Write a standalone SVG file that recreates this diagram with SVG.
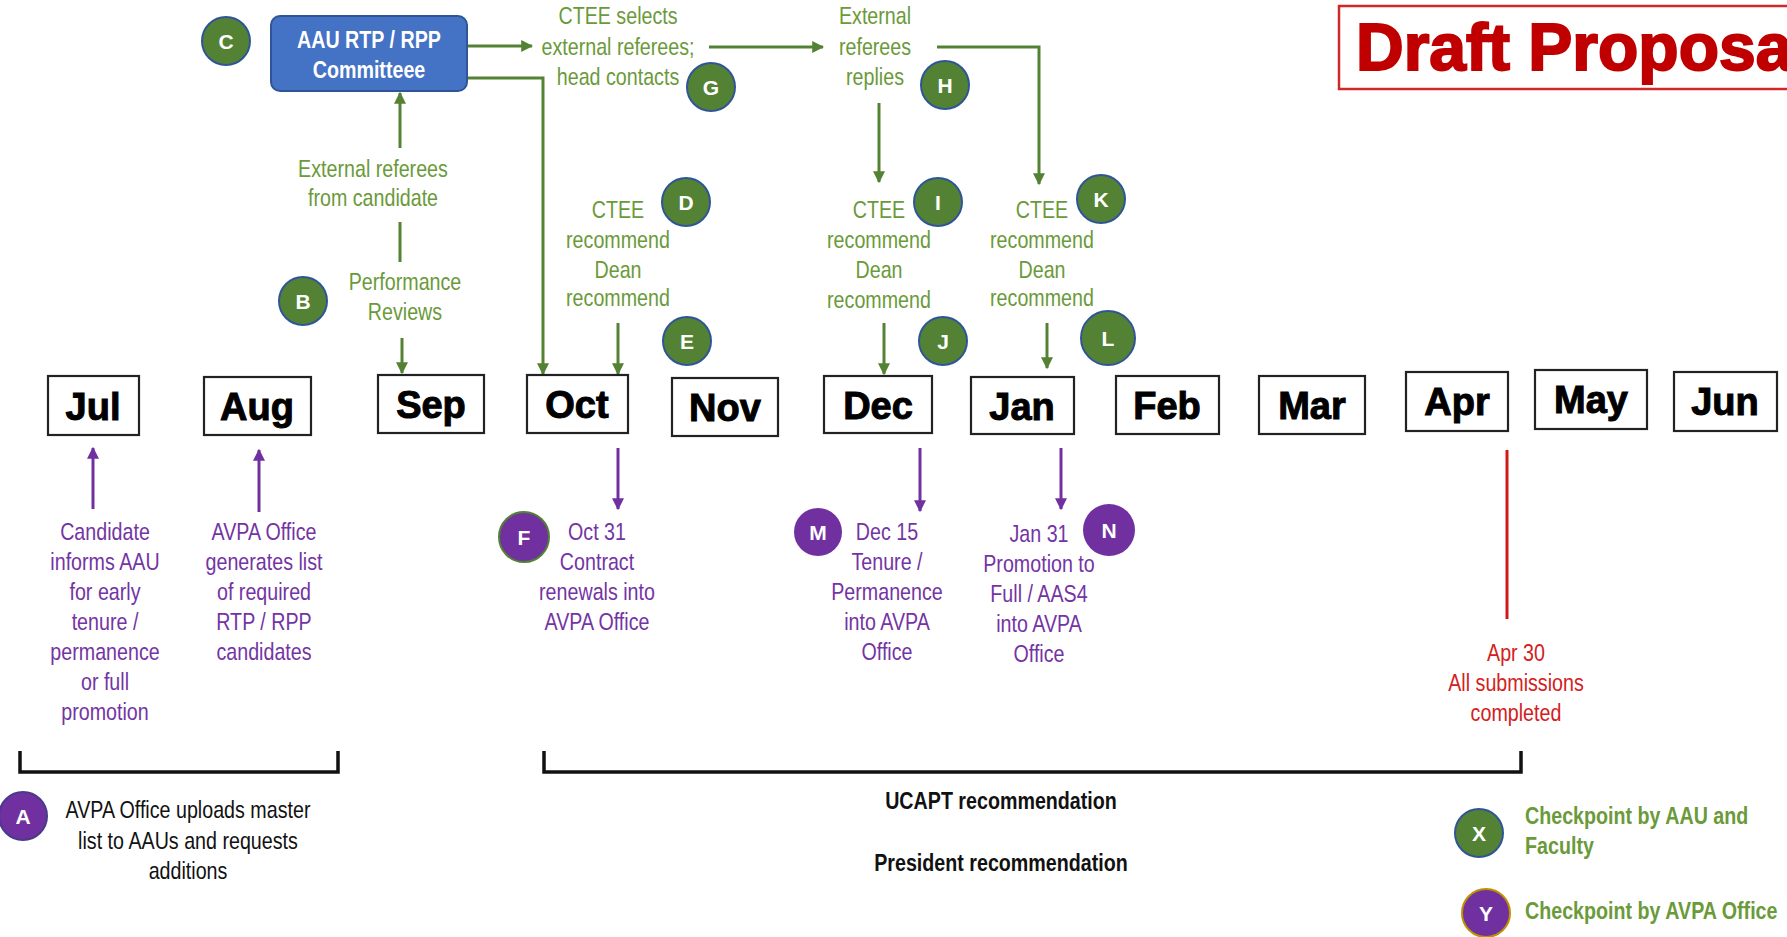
<svg xmlns="http://www.w3.org/2000/svg" width="1787" height="937" viewBox="0 0 1787 937">
<defs>
<style>
.t{font-family:"Liberation Sans",Arial,sans-serif;font-size:24px;text-anchor:middle}
.s{text-anchor:start}
.g{fill:#6a9a3a}
.p{fill:#7434a4}
.r{fill:#d42020}
.k{fill:#111}
.w{fill:#fff}
.b{font-weight:bold}
.mon rect{fill:#fff;stroke:#222;stroke-width:2.2}
.mon text{font-family:"Liberation Sans",Arial,sans-serif;font-weight:bold;font-size:38px;text-anchor:middle;fill:#000;stroke:#000;stroke-width:1}
.cg{fill:#548235;stroke:#2f5597;stroke-width:2}
.cp{fill:#7030a0;stroke:#4a3a8a;stroke-width:2}
.cl{font-family:"Liberation Sans",Arial,sans-serif;font-weight:bold;font-size:21px;fill:#fff;text-anchor:middle}
.lg{fill:none;stroke:#548235;stroke-width:3}
.lp{fill:none;stroke:#7030a0;stroke-width:3}
</style>
<marker id="ag" viewBox="0 0 10 10" refX="9" refY="5" markerWidth="4" markerHeight="4" orient="auto"><path d="M0,0 L10,5 L0,10 z" fill="#548235"/></marker>
<marker id="ap" viewBox="0 0 10 10" refX="9" refY="5" markerWidth="4" markerHeight="4" orient="auto"><path d="M0,0 L10,5 L0,10 z" fill="#7030a0"/></marker>
</defs>
<rect width="1787" height="937" fill="#fff"/>

<g id="title">
<rect x="1339" y="6" width="470" height="83" fill="#fff" stroke="#d02828" stroke-width="2.5"/>
<text x="1356" y="70" style="font-family:'Liberation Sans',Arial,sans-serif;font-weight:bold;font-size:66px;fill:#c00000;stroke:#c00000;stroke-width:2">Draft Proposal</text>
</g>

<g id="connectors">
<path class="lg" d="M467,46 H532" marker-end="url(#ag)"/>
<path class="lg" d="M467,78 H543 V374" marker-end="url(#ag)"/>
<path class="lg" d="M400,148 V93" marker-end="url(#ag)"/>
<path class="lg" d="M400,222 V262"/>
<path class="lg" d="M402,338 V373" marker-end="url(#ag)"/>
<path class="lg" d="M709,47 H823" marker-end="url(#ag)"/>
<path class="lg" d="M937,47 H1039 V184" marker-end="url(#ag)"/>
<path class="lg" d="M879,103 V182" marker-end="url(#ag)"/>
<path class="lg" d="M618,323 V374" marker-end="url(#ag)"/>
<path class="lg" d="M884,323 V374" marker-end="url(#ag)"/>
<path class="lg" d="M1047,323 V368" marker-end="url(#ag)"/>
<path class="lp" d="M93,509 V448" marker-end="url(#ap)"/>
<path class="lp" d="M259,512 V450" marker-end="url(#ap)"/>
<path class="lp" d="M618,448 V509" marker-end="url(#ap)"/>
<path class="lp" d="M920,448 V511" marker-end="url(#ap)"/>
<path class="lp" d="M1061,448 V509" marker-end="url(#ap)"/>
<path d="M1507,450 V619" fill="none" stroke="#d01818" stroke-width="3"/>
<path d="M20,751 V772 H338 V751" fill="none" stroke="#111" stroke-width="3.5"/>
<path d="M544,751 V772 H1521 V751" fill="none" stroke="#111" stroke-width="3.5"/>
</g>

<g id="committee">
<rect x="271" y="16" width="196" height="75" rx="9" fill="#4472c4" stroke="#2f5597" stroke-width="2"/>
<g class="t b w" transform="translate(369 0) scale(0.82 1)"><text x="0" y="48">AAU RTP / RPP</text><text x="0" y="78">Committeee</text></g>
</g>

<g id="months" class="mon">
<g id="m-jul"><rect x="48" y="376" width="91" height="59"/><text x="93" y="420">Jul</text></g>
<g id="m-aug"><rect x="204" y="377" width="107" height="58"/><text x="257" y="420">Aug</text></g>
<g id="m-sep"><rect x="378" y="375" width="106" height="58"/><text x="431" y="418">Sep</text></g>
<g id="m-oct"><rect x="527" y="375" width="101" height="58"/><text x="577" y="418">Oct</text></g>
<g id="m-nov"><rect x="672" y="378" width="106" height="58"/><text x="725" y="421">Nov</text></g>
<g id="m-dec"><rect x="824" y="376" width="108" height="57"/><text x="878" y="419">Dec</text></g>
<g id="m-jan"><rect x="971" y="377" width="103" height="57"/><text x="1022" y="420">Jan</text></g>
<g id="m-feb"><rect x="1116" y="376" width="103" height="58"/><text x="1167" y="419">Feb</text></g>
<g id="m-mar"><rect x="1259" y="376" width="106" height="58"/><text x="1312" y="419">Mar</text></g>
<g id="m-apr"><rect x="1406" y="372" width="102" height="59"/><text x="1457" y="415">Apr</text></g>
<g id="m-may"><rect x="1535" y="370" width="112" height="59"/><text x="1591" y="413">May</text></g>
<g id="m-jun"><rect x="1674" y="372" width="103" height="59"/><text x="1725" y="415">Jun</text></g>
</g>

<g id="ctee-selects" class="t g" transform="translate(618 0) scale(0.82 1)"><text x="0" y="24">CTEE selects</text><text x="0" y="55">external referees;</text><text x="0" y="85">head contacts</text></g>
<g id="ext-replies" class="t g" transform="translate(875 0) scale(0.82 1)"><text x="0" y="24">External</text><text x="0" y="55">referees</text><text x="0" y="85">replies</text></g>
<g id="ext-cand" class="t g" transform="translate(373 0) scale(0.82 1)"><text x="0" y="177">External referees</text><text x="0" y="206">from candidate</text></g>
<g id="perf" class="t g" transform="translate(405 0) scale(0.82 1)"><text x="0" y="290">Performance</text><text x="0" y="320">Reviews</text></g>
<g id="ctee-oct" class="t g" transform="translate(618 0) scale(0.82 1)"><text x="0" y="218">CTEE</text><text x="0" y="248">recommend</text><text x="0" y="278">Dean</text><text x="0" y="306">recommend</text></g>
<g id="ctee-dec" class="t g" transform="translate(879 0) scale(0.82 1)"><text x="0" y="218">CTEE</text><text x="0" y="248">recommend</text><text x="0" y="278">Dean</text><text x="0" y="308">recommend</text></g>
<g id="ctee-jan" class="t g" transform="translate(1042 0) scale(0.82 1)"><text x="0" y="218">CTEE</text><text x="0" y="248">recommend</text><text x="0" y="278">Dean</text><text x="0" y="306">recommend</text></g>

<g id="jul-note" class="t p" transform="translate(105 0) scale(0.82 1)"><text x="0" y="540">Candidate</text><text x="0" y="570">informs AAU</text><text x="0" y="600">for early</text><text x="0" y="630">tenure /</text><text x="0" y="660">permanence</text><text x="0" y="690">or full</text><text x="0" y="720">promotion</text></g>
<g id="aug-note" class="t p" transform="translate(264 0) scale(0.82 1)"><text x="0" y="540">AVPA Office</text><text x="0" y="570">generates list</text><text x="0" y="600">of required</text><text x="0" y="630">RTP / RPP</text><text x="0" y="660">candidates</text></g>
<g id="oct-note" class="t p" transform="translate(597 0) scale(0.82 1)"><text x="0" y="540">Oct 31</text><text x="0" y="570">Contract</text><text x="0" y="600">renewals into</text><text x="0" y="630">AVPA Office</text></g>
<g id="dec-note" class="t p" transform="translate(887 0) scale(0.82 1)"><text x="0" y="540">Dec 15</text><text x="0" y="570">Tenure /</text><text x="0" y="600">Permanence</text><text x="0" y="630">into AVPA</text><text x="0" y="660">Office</text></g>
<g id="jan-note" class="t p" transform="translate(1039 0) scale(0.82 1)"><text x="0" y="542">Jan 31</text><text x="0" y="572">Promotion to</text><text x="0" y="602">Full / AAS4</text><text x="0" y="632">into AVPA</text><text x="0" y="662">Office</text></g>
<g id="apr-note" class="t r" transform="translate(1516 0) scale(0.82 1)"><text x="0" y="661">Apr 30</text><text x="0" y="691">All submissions</text><text x="0" y="721">completed</text></g>

<g id="a-note" class="t k" transform="translate(188 0) scale(0.82 1)"><text x="0" y="818">AVPA Office uploads master</text><text x="0" y="849">list to AAUs and requests</text><text x="0" y="879">additions</text></g>
<g id="ucapt" class="t k b" transform="translate(1001 0) scale(0.82 1)"><text x="0" y="809">UCAPT recommendation</text></g>
<g id="president" class="t k b" transform="translate(1001 0) scale(0.82 1)"><text x="0" y="871">President recommendation</text></g>
<g id="legend-x"><circle class="cg" cx="1479" cy="833" r="24"/><text class="cl" x="1479" y="841">X</text>
<g class="t g b s" transform="translate(1525 0) scale(0.82 1)"><text x="0" y="824">Checkpoint by AAU and</text><text x="0" y="854">Faculty</text></g></g>
<g id="legend-y"><circle cx="1486" cy="913" r="24" fill="#7030a0" stroke="#bf9000" stroke-width="2"/><text class="cl" x="1486" y="921">Y</text>
<g class="t g b s" transform="translate(1525 0) scale(0.82 1)"><text x="0" y="919">Checkpoint by AVPA Office</text></g></g>

<g id="badge-a"><circle class="cp" cx="23" cy="816" r="24"/><text class="cl" x="23" y="824">A</text></g>
<g id="badge-b"><circle class="cg" cx="303" cy="301" r="24"/><text class="cl" x="303" y="309">B</text></g>
<g id="badge-c"><circle class="cg" cx="226" cy="41" r="24"/><text class="cl" x="226" y="49">C</text></g>
<g id="badge-d"><circle class="cg" cx="686" cy="202" r="24"/><text class="cl" x="686" y="210">D</text></g>
<g id="badge-e"><circle class="cg" cx="687" cy="341" r="24"/><text class="cl" x="687" y="349">E</text></g>
<g id="badge-f"><circle cx="524" cy="537" r="25" fill="#7030a0" stroke="#548235" stroke-width="2"/><text class="cl" x="524" y="545">F</text></g>
<g id="badge-g"><circle class="cg" cx="711" cy="87" r="24"/><text class="cl" x="711" y="95">G</text></g>
<g id="badge-h"><circle class="cg" cx="945" cy="85" r="24"/><text class="cl" x="945" y="93">H</text></g>
<g id="badge-i"><circle class="cg" cx="938" cy="202" r="24"/><text class="cl" x="938" y="210">I</text></g>
<g id="badge-j"><circle class="cg" cx="943" cy="341" r="24"/><text class="cl" x="943" y="349">J</text></g>
<g id="badge-k"><circle class="cg" cx="1101" cy="199" r="24"/><text class="cl" x="1101" y="207">K</text></g>
<g id="badge-l"><circle class="cg" cx="1108" cy="338" r="27"/><text class="cl" x="1108" y="346">L</text></g>
<g id="badge-m"><circle cx="818" cy="532" r="24" fill="#7030a0"/><text class="cl" x="818" y="540">M</text></g>
<g id="badge-n"><circle cx="1109" cy="530" r="26" fill="#7030a0"/><text class="cl" x="1109" y="538">N</text></g>
</svg>
